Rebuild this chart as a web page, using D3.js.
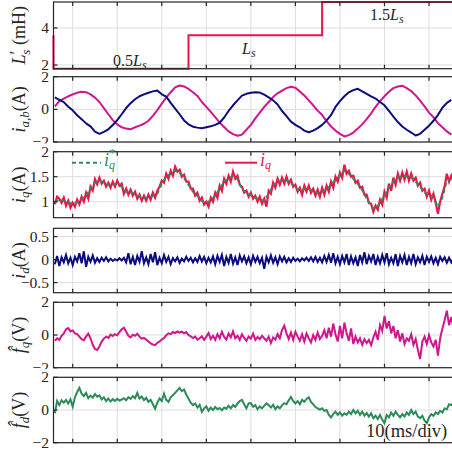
<!DOCTYPE html>
<html><head><meta charset="utf-8">
<script src="https://cdn.jsdelivr.net/npm/d3@7"></script>
<style>body{margin:0;background:#fff} svg{display:block}</style>
</head><body>
<script>
// ---------------- DATA ----------------
const tickTimes = [0,10,20,30,40,50,60,70,80];          // ms, 10 ms/div
const lsTime = [-4.31,-4.31,26,56,86];
const lsVal  = [3.6,1.8,3.6,5.4,5.4];                     // L's (mH)
const t1  = d3.range(-4, 85.5, 1);     // 1 ms sample grid (90)
const t05 = d3.range(-4, 86, 0.5);     // 0.5 ms sample grid (180)

const ia = [0.74,0.58,0.44,0.16,-0.06,-0.36,-0.60,-0.86,-1.04,-1.36,
 -1.50,-1.38,-1.22,-0.96,-0.66,-0.30,0.08,0.38,0.62,0.80,
 0.92,1.02,1.10,1.16,0.92,0.78,0.40,0.05,-0.30,-0.68,
 -0.92,-1.06,-1.12,-1.16,-1.10,-1.04,-0.95,-0.82,-0.50,-0.10,
 0.25,0.55,0.84,0.95,1.02,1.05,1.03,0.90,0.74,0.55,
 0.30,-0.10,-0.42,-0.75,-0.95,-1.10,-1.30,-1.40,-1.30,-1.15,
 -0.95,-0.68,-0.35,0.15,0.50,0.80,1.04,1.18,1.26,1.10,
 0.95,0.80,0.66,0.45,0.25,-0.10,-0.45,-0.78,-1.05,-1.25,
 -1.42,-1.60,-1.50,-1.25,-1.00,-0.70,-0.35,0.10,0.40,0.58];

const ib = [0.18,0.50,0.66,0.80,0.92,1.02,1.08,1.05,0.92,0.72,
 0.45,0.08,-0.30,-0.66,-0.92,-1.10,-1.18,-1.22,-1.10,-1.00,
 -0.88,-0.70,-0.40,-0.05,0.35,0.72,1.05,1.35,1.46,1.40,
 1.25,1.05,0.82,0.45,0.15,-0.15,-0.48,-0.82,-1.08,-1.35,
 -1.52,-1.62,-1.55,-1.25,-0.95,-0.55,-0.20,0.15,0.45,0.75,
 0.98,1.15,1.30,1.38,1.32,1.10,0.85,0.55,0.25,-0.08,
 -0.35,-0.72,-1.05,-1.30,-1.50,-1.66,-1.58,-1.42,-1.18,-0.92,
 -0.60,-0.25,0.15,0.50,0.80,1.08,1.30,1.40,1.45,1.30,
 1.12,0.85,0.53,0.18,-0.20,-0.48,-0.85,-1.10,-1.35,-1.55];

const iqRef = [1.00,1.04,1.02,0.98,0.96,0.99,1.05,1.12,1.28,1.38,
 1.42,1.38,1.34,1.35,1.36,1.30,1.20,1.19,1.15,1.10,
 1.08,1.08,1.12,1.16,1.36,1.50,1.56,1.62,1.58,1.48,
 1.34,1.20,1.12,1.02,0.97,1.03,1.12,1.26,1.40,1.46,
 1.52,1.45,1.25,1.17,1.13,1.08,1.04,1.02,1.16,1.32,
 1.40,1.42,1.43,1.38,1.28,1.21,1.25,1.26,1.20,1.17,
 1.20,1.25,1.33,1.44,1.52,1.62,1.56,1.46,1.36,1.23,
 1.06,0.90,0.86,0.98,1.12,1.28,1.40,1.48,1.50,1.51,
 1.49,1.40,1.30,1.18,1.13,1.08,0.90,1.08,1.42,1.45];

const iq = [0.95,1.10,1.06,0.98,1.08,0.92,1.02,0.88,
 0.98,0.90,1.04,0.95,1.10,1.00,1.18,1.06,
 1.30,1.22,1.45,1.35,1.48,1.36,1.42,1.30,
 1.38,1.28,1.40,1.30,1.42,1.32,1.36,1.16,
 1.26,1.14,1.24,1.12,1.20,1.06,1.14,1.02,
 1.12,1.02,1.14,1.04,1.18,1.08,1.22,1.30,
 1.42,1.38,1.56,1.46,1.62,1.52,1.70,1.60,
 1.64,1.50,1.54,1.40,1.40,1.26,1.26,1.12,
 1.18,1.02,1.08,0.94,1.00,0.90,1.08,1.00,
 1.18,1.08,1.32,1.22,1.46,1.36,1.52,1.40,
 1.60,1.46,1.52,1.34,1.30,1.18,1.22,1.10,
 1.18,1.06,1.12,1.00,1.10,0.96,1.06,0.90,
 1.22,1.16,1.38,1.28,1.46,1.34,1.48,1.36,
 1.50,1.36,1.44,1.30,1.34,1.20,1.28,1.14,
 1.32,1.20,1.32,1.18,1.26,1.12,1.24,1.10,
 1.28,1.14,1.32,1.20,1.40,1.28,1.50,1.40,
 1.58,1.48,1.74,1.56,1.62,1.50,1.52,1.38,
 1.42,1.28,1.30,1.14,1.14,0.98,0.96,0.80,
 0.92,0.84,1.04,0.94,1.20,1.08,1.36,1.22,
 1.48,1.34,1.56,1.42,1.58,1.44,1.60,1.42,
 1.56,1.42,1.48,1.32,1.38,1.22,1.26,1.10,
 1.22,1.04,1.16,0.98,0.76,1.00,1.16,1.30,
 1.56,1.40,1.52,1.40];

const id = [-0.10,0.08,-0.14,0.05,-0.06,0.10,-0.08,0.04,
 -0.12,0.06,-0.04,0.14,-0.08,0.18,-0.16,0.06,
 -0.05,0.09,-0.07,0.03,-0.05,0.04,-0.03,0.05,
 -0.04,0.02,-0.03,0.01,-0.02,0.03,-0.02,0.04,
 -0.06,0.14,-0.10,0.06,-0.12,0.08,-0.05,0.18,
 -0.08,0.05,-0.10,0.12,-0.06,0.16,-0.12,0.04,
 -0.08,0.10,-0.05,0.06,-0.10,0.03,-0.04,0.05,
 -0.07,0.02,-0.04,0.06,-0.03,0.04,-0.06,0.03,
 -0.05,0.08,-0.04,0.06,-0.08,0.04,-0.06,0.07,
 -0.10,0.08,-0.05,0.10,-0.14,0.06,-0.07,0.12,
 -0.09,0.05,-0.12,0.09,-0.04,0.07,-0.08,0.05,
 -0.10,0.08,-0.05,0.06,-0.08,0.04,-0.20,0.06,
 -0.06,0.09,-0.07,0.05,-0.10,0.07,-0.04,0.06,
 -0.06,0.03,-0.05,0.04,-0.03,0.02,-0.04,0.03,
 -0.02,0.04,-0.03,0.05,-0.04,0.06,-0.05,0.04,
 -0.06,0.08,-0.05,0.10,-0.07,0.14,-0.08,0.06,
 -0.10,0.08,-0.06,0.12,-0.12,0.07,-0.08,0.05,
 -0.14,0.10,-0.06,0.16,-0.10,0.08,-0.04,0.12,
 -0.12,0.06,-0.08,0.10,-0.06,0.14,-0.10,0.04,
 -0.08,0.12,-0.14,0.08,-0.06,0.10,-0.12,0.06,
 -0.08,0.12,-0.10,0.05,-0.06,0.08,-0.12,0.06,
 -0.05,0.07,-0.08,0.04,-0.10,0.06,-0.03,0.05,
 -0.07,0.04,-0.06,0.03];

const fq = [-0.35,-0.20,-0.30,-0.05,0.10,0.35,0.42,0.22,
 0.28,0.10,0.05,-0.10,-0.25,-0.32,-0.10,0.08,
 -0.20,-0.60,-0.85,-0.92,-0.70,-0.40,-0.22,-0.10,
 -0.18,0.02,-0.06,0.05,-0.02,0.18,0.35,0.45,
 0.20,-0.05,-0.15,0.02,-0.05,0.08,-0.10,-0.22,
 -0.18,-0.28,-0.40,-0.52,-0.58,-0.62,-0.48,-0.40,
 -0.28,-0.18,-0.02,0.10,0.05,0.18,0.12,0.22,
 0.15,0.20,0.10,0.18,0.00,-0.08,-0.18,-0.10,
 -0.28,-0.20,-0.08,-0.30,-0.10,0.12,-0.25,-0.05,
 -0.30,0.05,-0.20,0.20,-0.12,-0.28,0.10,-0.15,
 0.22,-0.20,-0.05,-0.30,0.05,-0.18,-0.35,-0.10,
 -0.22,0.08,-0.30,-0.12,-0.25,-0.05,-0.20,-0.35,
 -0.10,-0.50,-0.15,-0.28,0.05,-0.20,0.30,0.57,
 0.10,-0.25,0.15,-0.30,0.20,-0.10,-0.35,0.05,
 -0.40,0.10,-0.20,-0.45,0.00,-0.30,0.15,-0.25,
 -0.05,0.30,-0.20,0.45,-0.10,0.70,0.05,-0.40,
 0.55,-0.20,0.76,0.10,-0.35,0.40,-0.55,-0.10,
 -0.45,-0.20,-0.60,-0.25,-0.50,-0.30,-0.62,-0.15,
 0.20,-0.30,0.60,0.25,1.16,0.40,0.85,0.10,
 0.55,-0.20,0.30,-0.40,0.10,-0.55,-0.20,-0.35,
 0.05,-0.60,-0.25,-0.90,-1.47,-0.40,-0.10,-0.55,
 0.00,-0.45,-0.70,-0.30,-1.26,-0.20,0.40,0.90,
 1.49,0.60,1.10,0.40];

const fd = [-0.20,0.55,0.30,0.60,0.45,0.62,0.40,0.65,
 0.20,0.78,1.10,1.35,1.00,0.85,1.05,0.72,
 0.88,0.75,0.98,0.82,0.90,0.65,0.78,0.55,
 0.70,0.52,0.66,0.55,0.68,0.58,0.64,0.72,
 0.60,0.78,0.68,0.85,0.72,1.05,0.70,0.82,
 0.60,0.75,0.50,0.62,0.35,0.08,0.45,0.70,
 0.55,1.00,0.62,0.50,0.78,0.90,1.05,1.20,
 1.35,1.15,1.25,0.95,0.70,0.45,0.30,0.40,
 0.15,0.32,-0.12,0.10,0.22,-0.05,0.15,0.00,
 0.18,0.05,0.12,-0.02,0.15,0.08,0.25,0.10,
 0.30,0.18,0.40,0.55,0.62,0.35,0.10,0.40,
 0.42,0.20,0.30,0.05,0.22,0.10,0.25,0.40,
 0.30,0.15,0.32,0.05,0.22,0.10,0.28,0.42,
 0.35,0.60,0.80,0.55,0.40,0.55,0.35,0.62,
 0.50,0.68,0.78,0.50,0.35,0.18,0.10,0.02,
 0.10,-0.05,0.00,-0.30,-0.45,-0.25,-0.10,-0.30,
 -0.15,-0.35,-0.20,-0.30,-0.10,-0.25,0.00,-0.20,
 -0.05,-0.30,-0.10,-0.35,-0.18,-0.40,-0.20,-0.50,
 -0.35,-0.55,-0.30,-0.60,-0.80,-0.30,-0.45,-0.15,
 -0.35,-0.10,-0.30,-0.45,-0.25,-0.40,-0.15,-0.30,
 0.00,-0.25,-0.10,-0.40,-0.50,-0.35,-0.65,-0.80,
 -0.45,-0.25,-0.35,-0.15,-0.25,-0.05,-0.15,0.10,
 0.05,0.35,0.30,0.45];

// ---------------- STYLE / LAYOUT ----------------
const W = 452, H = 452;
const RED = "#e8174a", NAVY = "#0b0b80", MAG = "#d0168c", GRN = "#2c8c58";
const SERIF = "'Liberation Serif', 'DejaVu Serif', serif";

const x = d3.scaleLinear().domain([-4.31, 86]).range([53.5, 53.5 + 90.31 * 4.454]);

const panels = [
  {top: 2,     bottom: 68.7,  dom: [1.8, 5.4],    ticks: [2, 4]},
  {top: 76.7,  bottom: 142,   dom: [-2, 2],       ticks: [-2, 0, 2]},
  {top: 151.7, bottom: 217.7, dom: [0.68, 2],     ticks: [1, 1.5, 2]},
  {top: 228.3, bottom: 292.7, dom: [-0.72, 0.68], ticks: [-0.5, 0, 0.5]},
  {top: 302.3, bottom: 367.7, dom: [-2, 2],       ticks: [-2, 0, 2]},
  {top: 377.3, bottom: 442.7, dom: [-2, 2],       ticks: [-2, 0, 2]},
];

const svg = d3.select("body").append("svg").attr("width", W).attr("height", H)
  .style("font-family", SERIF);

panels.forEach((p, i) => {
  p.y = d3.scaleLinear().domain(p.dom).range([p.bottom, p.top]);
  const g = svg.append("g");
  p.g = g;
  // white cover (later panels overlap earlier labels)
  const coverTop = i === 0 ? 0 : panels[i - 1].bottom + 1.5;
  g.append("rect").attr("x", 0).attr("y", coverTop).attr("width", W)
    .attr("height", p.bottom - coverTop + 0.5).attr("fill", "#fff");
  const x0 = x.range()[0], x1 = x.range()[1];
  // grid
  g.append("g").selectAll("line").data(tickTimes).join("line")
    .attr("x1", d => x(d)).attr("x2", d => x(d)).attr("y1", p.top).attr("y2", p.bottom)
    .attr("stroke", "#dedede").attr("stroke-width", 1);
  g.append("g").selectAll("line").data(p.ticks).join("line")
    .attr("x1", x0).attr("x2", x1).attr("y1", d => p.y(d)).attr("y2", d => p.y(d))
    .attr("stroke", "#dedede").attr("stroke-width", 1);
  // clip
  g.append("clipPath").attr("id", "clip" + i).append("rect")
    .attr("x", x0).attr("y", p.top).attr("width", x1 - x0).attr("height", p.bottom - p.top);
  p.plot = g.append("g").attr("clip-path", i === 0 ? null : `url(#clip${i})`);
  p.axes = g.append("g");
});

const mk = (ts, vals, p) => d3.line().x((d, k) => x(ts[k])).y(d => p.y(d))(vals);

// Panel 1: step
{
  const p = panels[0];
  p.plot.append("path")
    .attr("d", d3.line().curve(d3.curveStepAfter).x((d, k) => x(lsTime[k])).y(d => p.y(d))(lsVal))
    .attr("fill", "none").attr("stroke", RED).attr("stroke-width", 2);
}
// Panel 2
panels[1].plot.append("path").attr("d", mk(t1, ib, panels[1]))
  .attr("fill", "none").attr("stroke", MAG).attr("stroke-width", 2).attr("stroke-linejoin", "round");
panels[1].plot.append("path").attr("d", mk(t1, ia, panels[1]))
  .attr("fill", "none").attr("stroke", NAVY).attr("stroke-width", 2).attr("stroke-linejoin", "round");
// Panel 3
panels[2].plot.append("path").attr("d", mk(t05, iq, panels[2]))
  .attr("fill", "none").attr("stroke", RED).attr("stroke-width", 2.2);
panels[2].plot.append("path").attr("d", mk(t1, iqRef, panels[2]))
  .attr("fill", "none").attr("stroke", GRN).attr("stroke-width", 2).attr("stroke-dasharray", "4,3");
// Panel 4
panels[3].plot.append("path").attr("d", mk(t05, id, panels[3]))
  .attr("fill", "none").attr("stroke", NAVY).attr("stroke-width", 2);
// Panel 5
panels[4].plot.append("path").attr("d", mk(t05, fq, panels[4]))
  .attr("fill", "none").attr("stroke", MAG).attr("stroke-width", 2);
// Panel 6
panels[5].plot.append("path").attr("d", mk(t05, fd, panels[5]))
  .attr("fill", "none").attr("stroke", GRN).attr("stroke-width", 2);

// axes: box, ticks, labels
panels.forEach((p, i) => {
  const a = p.axes;
  const x0 = x.range()[0], x1 = x.range()[1];
  a.append("rect").attr("x", x0).attr("y", p.top).attr("width", x1 - x0).attr("height", p.bottom - p.top)
    .attr("fill", "none").attr("stroke", "#262626").attr("stroke-width", 1.2);
  a.append("g").selectAll("path").data(tickTimes).join("path")
    .attr("d", d => `M${x(d)},${p.bottom}v-4M${x(d)},${p.top}v4`)
    .attr("stroke", "#262626").attr("stroke-width", 1.2);
  a.append("g").selectAll("path").data(p.ticks).join("path")
    .attr("d", d => `M${x0},${p.y(d)}h4`).attr("stroke", "#262626").attr("stroke-width", 1.2);
  a.append("g").selectAll("text").data(p.ticks).join("text")
    .attr("x", 49).attr("y", d => p.y(d)).attr("dy", "0.33em").attr("text-anchor", "end")
    .attr("font-size", 15.5).attr("fill", "#262626").text(d => d3.format("")(d));
});

// y titles
function title(p, parts) {
  const cy = (p.top + p.bottom) / 2;
  const t = svg.append("text").attr("transform", `translate(25,${cy}) rotate(-90)`)
    .attr("text-anchor", "middle").attr("font-size", 18).attr("fill", "#262626");
  parts.forEach(s => {
    const ts = t.append("tspan").text(s.t);
    if (s.it) ts.attr("font-style", "italic");
    if (s.dy) ts.attr("dy", s.dy);
    if (s.dx) ts.attr("dx", s.dx);
    if (s.fs) ts.attr("font-size", s.fs);
  });
}
title(panels[0], [{t: "L", it: 1}, {t: "′", dy: -2}, {t: "s", it: 1, fs: 13, dx: -4, dy: 7}, {t: " (mH)", dy: -5}]);
title(panels[1], [{t: "i", it: 1}, {t: "a,b", it: 1, fs: 13, dy: 4}, {t: "(A)", dy: -4}]);
title(panels[2], [{t: "i", it: 1}, {t: "q", it: 1, fs: 13, dy: 4}, {t: "(A)", dy: -4}]);
title(panels[3], [{t: "i", it: 1}, {t: "d", it: 1, fs: 13, dy: 4}, {t: "(A)", dy: -4}]);
title(panels[4], [{t: "f\u0302", it: 1}, {t: "q", it: 1, fs: 13, dy: 4}, {t: "(V)", dy: -4}]);
title(panels[5], [{t: "f\u0302", it: 1}, {t: "d", it: 1, fs: 13, dy: 4}, {t: "(V)", dy: -4}]);

// annotations
function rich(xp, yp, parts, color, fs) {
  const t = svg.append("text").attr("x", xp).attr("y", yp).attr("font-size", fs).attr("fill", color);
  parts.forEach(s => {
    const ts = t.append("tspan").text(s.t);
    if (s.it) ts.attr("font-style", "italic");
    if (s.dy) ts.attr("dy", s.dy);
    if (s.dx) ts.attr("dx", s.dx);
    if (s.fs) ts.attr("font-size", s.fs);
  });
}
rich(113, 66, [{t: "0.5"}, {t: "L", it: 1}, {t: "s", it: 1, fs: 12, dy: 3}], "#262626", 16);
rich(242, 54, [{t: "L", it: 1}, {t: "s", it: 1, fs: 12, dy: 3}], "#262626", 16);
rich(370, 20, [{t: "1.5"}, {t: "L", it: 1}, {t: "s", it: 1, fs: 12, dy: 3}], "#262626", 16);

// legend panel 3
svg.append("line").attr("x1", 72).attr("x2", 101).attr("y1", 162.7).attr("y2", 162.7)
  .attr("stroke", GRN).attr("stroke-width", 2).attr("stroke-dasharray", "4,3");
rich(104, 166, [{t: "i", it: 1}, {t: "q", it: 1, fs: 12, dy: 3}, {t: "*", fs: 13, dx: -6, dy: -12}], GRN, 18);
svg.append("line").attr("x1", 225).attr("x2", 257).attr("y1", 162.7).attr("y2", 162.7)
  .attr("stroke", RED).attr("stroke-width", 2);
rich(260, 166, [{t: "i", it: 1}, {t: "q", it: 1, fs: 12, dy: 3}], RED, 18);

rich(366, 437, [{t: "10(ms/div)"}], "#262626", 18.5);
</script>
</body></html>
